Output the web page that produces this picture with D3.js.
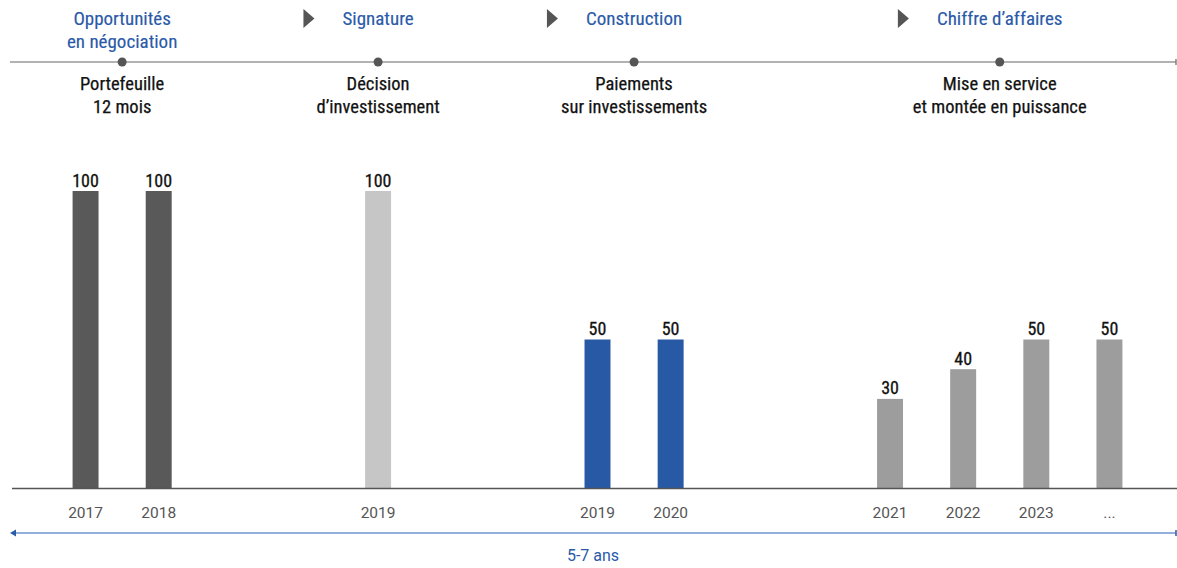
<!DOCTYPE html>
<head>
  <meta charset="utf-8">
  <script src="https://d3js.org/d3.v7.min.js"></script>
  <style>
body { margin:0; background:#fff; }
text { font-family: Roboto, "Liberation Sans", sans-serif; }
.narrow { font-family: "Liberation Sans Narrow", "Roboto Condensed", "DejaVu Sans Condensed", sans-serif; }
.stage { fill: #2a5aa8; font-size: 19px; stroke: #2a5aa8; stroke-width: 0.15px; }
.note { fill: #111; font-size: 18.5px; stroke: #111; stroke-width: 0.25px; }
.value { fill: #111; font-size: 18px; stroke: #111; stroke-width: 0.3px; }
.tick { fill: #555; font-size: 15.5px; }
.span { fill: #2a5aa8; font-size: 16px; }
  </style>
</head>
<body>
<script>
const stageTitles = [['Opportunités', 'en négociation'], ['Signature'], ['Construction'], ['Chiffre d’affaires']]
const stageNotes = [['Portefeuille', '12 mois'], ['Décision', 'd’investissement'], ['Paiements', 'sur investissements'], ['Mise en service', 'et montée en puissance']]
const years = [['2017', '2018'], ['2019'], ['2019', '2020'], ['2021', '2022', '2023', '...']]
const values = [[100, 100], [100], [50, 50], [30, 40, 50, 50]]
const colors = ['#595959', '#c6c6c6', '#2759a5', '#9d9d9d']
const spanLabel = '5-7 ans'

const W = 1177, H = 568
const svg = d3.select('body').append('svg').attr('width', W).attr('height', H)

// one slot per bar, two empty slots between stages
const slots = []
const bars = []
values.forEach((vals, s) => {
  if (s > 0) slots.push('gap' + s + 'a', 'gap' + s + 'b')
  vals.forEach((v, i) => {
    const key = s + '-' + i
    slots.push(key)
    bars.push({ key, stage: s, value: v, year: years[s][i] })
  })
})

const x = d3.scaleBand().domain(slots).range([49, 1146]).paddingInner(0.645).paddingOuter(0.3225)
const y = d3.scaleLinear().domain([0, 100]).range([488, 191])

const stageX = values.map((vals, s) => {
  const first = x(s + '-0'), last = x(s + '-' + (vals.length - 1))
  return (first + last + x.bandwidth()) / 2
})

// timeline
const lineY = 62
svg.append('line').attr('x1', 10).attr('x2', 1176).attr('y1', lineY).attr('y2', lineY)
  .attr('stroke', '#666').attr('stroke-width', 1.2)
svg.append('line').attr('x1', 1176).attr('x2', 1176).attr('y1', lineY - 3).attr('y2', lineY + 3)
  .attr('stroke', '#666').attr('stroke-width', 1.2)
svg.selectAll('.dot').data(stageX).enter().append('circle')
  .attr('cx', d => d).attr('cy', lineY).attr('r', 4.5).attr('fill', '#555')

// stage titles (blue) with arrows
stageTitles.forEach((lines, s) => {
  const t = svg.append('text').attr('class', 'stage narrow').attr('text-anchor', 'middle')
  lines.forEach((l, i) => t.append('tspan').attr('x', stageX[s]).attr('y', 25 + i * 22.5).text(l))
  if (s > 0) {
    const left = stageX[s] - t.node().getBBox().width / 2 - 28
    svg.append('path')
      .attr('d', `M${left - 11},9L${left},18.5L${left - 11},28Z`)
      .attr('fill', '#555')
  }
})

stageNotes.forEach((lines, s) => {
  const t = svg.append('text').attr('class', 'note narrow').attr('text-anchor', 'middle')
  lines.forEach((l, i) => t.append('tspan').attr('x', stageX[s]).attr('y', 90 + i * 22.5).text(l))
})

// bars
svg.selectAll('.bar').data(bars).enter().append('rect')
  .attr('x', d => x(d.key)).attr('width', x.bandwidth())
  .attr('y', d => y(d.value)).attr('height', d => y(0) - y(d.value))
  .attr('fill', d => colors[d.stage])

svg.selectAll('.value').data(bars).enter().append('text')
  .attr('class', 'value narrow').attr('text-anchor', 'middle')
  .attr('x', d => x(d.key) + x.bandwidth() / 2).attr('y', d => y(d.value) - 4.5)
  .text(d => d.value)

// baseline
svg.append('line').attr('x1', 12).attr('x2', W).attr('y1', 488.5).attr('y2', 488.5)
  .attr('stroke', '#555').attr('stroke-width', 1.5)

svg.selectAll('.tick').data(bars).enter().append('text')
  .attr('class', 'tick').attr('text-anchor', 'middle')
  .attr('x', d => x(d.key) + x.bandwidth() / 2).attr('y', 518)
  .text(d => d.year)

// duration arrow
const spanY = 533
svg.append('line').attr('x1', 12).attr('x2', 1176).attr('y1', spanY).attr('y2', spanY)
  .attr('stroke', '#6f96d0').attr('stroke-width', 1.5)
svg.append('path').attr('d', `M10,${spanY}L16,${spanY - 3.5}L16,${spanY + 3.5}Z`).attr('fill', '#2a5aa8')
svg.append('line').attr('x1', 1176).attr('x2', 1176).attr('y1', spanY - 3).attr('y2', spanY + 3)
  .attr('stroke', '#2a5aa8').attr('stroke-width', 1.5)
svg.append('text').attr('class', 'span').attr('text-anchor', 'middle')
  .attr('x', (10 + 1176) / 2).attr('y', 561).text(spanLabel)
</script>
</body>
